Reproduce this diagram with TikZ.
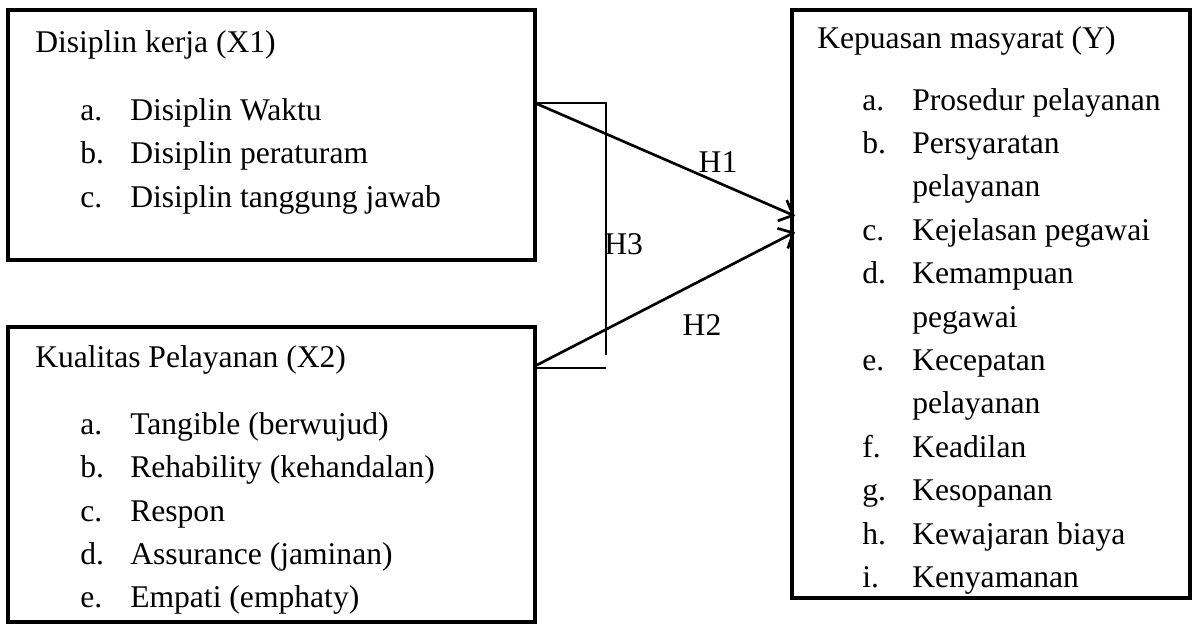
\documentclass[tikz,border=0pt]{standalone}
\usepackage{fontspec}
\setmainfont{Liberation Serif}
\usetikzlibrary{arrows.meta}
\begin{document}
\begin{tikzpicture}[x=0.75pt,y=-0.75pt,
 box/.style={draw, line width=3.4pt, inner sep=0pt},
 txt/.style={anchor=base west, inner sep=0pt, font=\fontsize{23.7}{28}\selectfont},
 link/.style={line width=2pt, -{Straight Barb[length=9pt,width=17pt,line width=2pt]}},
 bracket/.style={line width=1pt}]
\useasboundingbox (0,0) rectangle (1200,626);
% boxes
\node[box, minimum width=395.25pt, minimum height=187.5pt] (x1) at (271.5,135) {};
\node[box, minimum width=395.25pt, minimum height=221.25pt] (x2) at (271.5,474.5) {};
\node[box, minimum width=298.5pt, minimum height=441pt] (y) at (991,304) {};
% X1 text
\node[txt] (x1t) at (35,52) {Disiplin kerja (X1)};
\foreach \l/\t/\b [count=\i] in {a./Disiplin Waktu/120, b./Disiplin peraturam/163.5, c./Disiplin tanggung jawab/207}{
  \node[txt] (x1l\i) at (80,\b) {\l};
  \node[txt] (x1i\i) at (130,\b) {\t};
}
% X2 text
\node[txt] (x2t) at (35,367) {Kualitas Pelayanan (X2)};
\foreach \l/\t/\b [count=\i] in {a./Tangible (berwujud)/434, b./Rehability (kehandalan)/477, c./Respon/521, d./Assurance (jaminan)/564, e./Empati (emphaty)/607}{
  \node[txt] (x2l\i) at (80,\b) {\l};
  \node[txt] (x2i\i) at (130,\b) {\t};
}
% Y text
\node[txt] (yt) at (817,48) {Kepuasan masyarat (Y)};
\foreach \l/\t/\b [count=\i] in {a./Prosedur pelayanan/110, b./Persyaratan/153.4, /pelayanan/196.8, c./Kejelasan pegawai/240.2, d./Kemampuan/283.6, /pegawai/327, e./Kecepatan/370.4, /pelayanan/413.8, f./Keadilan/457.2, g./Kesopanan/500.6, h./Kewajaran biaya/544, i./Kenyamanan/587.4}{
  \node[txt] (yl\i) at (862,\b) {\l};
  \node[txt] (yi\i) at (912,\b) {\t};
}
% connectors
\coordinate (s1) at (535,103);
\coordinate (s2) at (535,366);
\coordinate (e1) at (795,216);
\coordinate (e2) at (795,232);
\coordinate (bt) at (606,103);
\coordinate (bv) at (606,355);
\coordinate (bb) at (606,368);
\coordinate (sb) at (535,368);
\draw[link] (s1) -- (e1);
\draw[link] (s2) -- (e2);
\draw[bracket] (s1) -- (bt) -- (bv);
\draw[bracket] (sb) -- (bb);
% labels
\node[txt, anchor=center] (h1) at (718,162) {H1};
\node[txt, anchor=center] (h2) at (702,325) {H2};
\node[txt, anchor=west] (h3) at (604,244) {H3};
\end{tikzpicture}
\end{document}
